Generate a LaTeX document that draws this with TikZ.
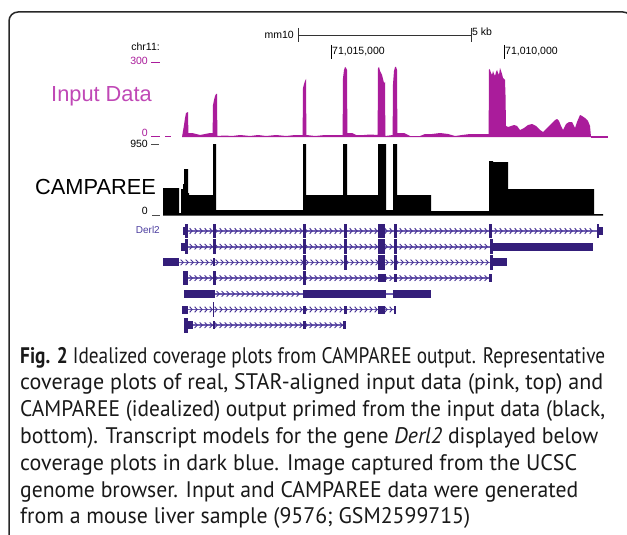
\documentclass[tikz,border=0pt]{standalone}
\usepackage{fontspec}
\setmainfont{Liberation Sans}
\newfontfamily\capfont{PT Sans}
\usepackage{graphicx}
\definecolor{inmag}{RGB}{170,28,155}
\definecolor{inlab}{RGB}{192,72,182}
\definecolor{txblue}{RGB}{52,30,122}
\definecolor{txline}{RGB}{108,92,176}
\definecolor{txchev}{RGB}{72,52,150}
\definecolor{derlc}{RGB}{76,62,160}
\definecolor{framec}{RGB}{40,40,40}
\definecolor{capc}{RGB}{25,25,25}
\newcommand\cdsbox[3]{\fill[txblue] (#1,#3-7.3) rectangle (#2,#3+7.3);}
\newcommand\utrbox[3]{\fill[txblue] (#1,#3-4) rectangle (#2,#3+4);}
\newcommand\intronln[3]{%
  \draw[txline,line width=1.6pt] (#2,#1) -- (#3,#1);
  \pgfmathsetmacro\xa{#2+3}\pgfmathsetmacro\xb{#2+8}\pgfmathsetmacro\xe{#3-2}
  \foreach \xx in {\xa,\xb,...,\xe}
    \draw[txchev,line width=0.9pt] (\xx-1.4,#1-2.8) -- (\xx+1.3,#1) -- (\xx-1.4,#1+2.8);}
\newcommand\capline[4]{\node[anchor=base west,inner sep=0,text=capc] (#1) at (20,#2) {\capfont\fontsize{22.5}{24}\selectfont\resizebox{#3pt}{\height}{#4}};}
\begin{document}
\begin{tikzpicture}[x=1pt,y=-1pt,
  lab/.style={inner sep=0,font=\fontsize{10.5}{12}\selectfont},
  big/.style={inner sep=0,font=\fontsize{21.8}{24}\selectfont}]
\useasboundingbox (0,0) rectangle (627,535);
\clip (0,0) rectangle (627,535);
\fill[white] (0,0) rectangle (627,535);
\draw[framec,line width=1.5pt,rounded corners=9pt] (9,560) -- (9,12) -- (632,12) -- (632,560);

% ruler
\node[lab,anchor=east] (mm) at (294,35) {mm10};
\draw[black!80,line width=0.8pt] (298,28) -- (298,42) (298,35) -- (471,35) (471,28) -- (471,42);
\node[lab,anchor=west] (kb) at (472,32) {5 kb};
\node[lab,anchor=east] (chr) at (160,47) {chr11:};
\draw[black,line width=0.8pt] (331,45) -- (331,59) (504,45) -- (504,59);
\node[lab,anchor=west] (p1) at (332,52) {71,015,000};
\node[lab,anchor=west] (p2) at (505,52) {71,010,000};

% axis labels
\node[lab,anchor=east,text=inmag] (t300) at (148,61) {300};
\draw[inmag,line width=0.9pt] (151,62) -- (160,62);
\node[lab,anchor=east,text=inmag] (t0a) at (148,133) {0};
\draw[inmag,line width=0.9pt] (151,136.5) -- (160,136.5) (165,136.5) -- (171,136.5);
\node[lab,anchor=east] (t950) at (148,144) {950};
\draw[black!70,line width=0.9pt] (151,144) -- (159,144);
\node[lab,anchor=east] (t0b) at (148,211) {0};
\draw[black!70,line width=0.9pt] (152,215) -- (160,215);
\node[lab,anchor=east,text=derlc,font=\fontsize{10}{12}\selectfont] (derl) at (160,230) {Derl2};
\node[big,anchor=west,text=inlab] (inlab) at (51,96) {Input Data};
\node[big,anchor=west] (camp) at (35,187) {CAMPAREE};

% input coverage
\fill[inmag] (182,137) -- (183,131) -- (184,125) -- (185,118) -- (186,113) -- (188,112) -- (188.4,133) -- (192,133) -- (196,134) -- (200,135) -- (205,134) -- (210,133) -- (212.6,133)
 -- (213,105) -- (214,100) -- (215,96) -- (216,94) -- (217,94) -- (217.4,136) -- (225,135.5) -- (232,136) -- (240,135) -- (250,136) -- (258,135) -- (266,136) -- (276,135) -- (286,136) -- (295,135) -- (302.6,135)
 -- (303,88) -- (304,84) -- (305,81) -- (306,79) -- (306.4,135) -- (315,136) -- (325,135) -- (335,135) -- (342.6,135)
 -- (343,78) -- (344,70) -- (345,67) -- (346,68) -- (347,70) -- (347.4,133) -- (352,133) -- (356,135) -- (364,135) -- (370,134.5) -- (377.6,135)
 -- (378,68) -- (379,67) -- (380,71) -- (381,73) -- (382,75) -- (383,79) -- (384,83) -- (385,82) -- (385.4,136) -- (392.6,135)
 -- (393,84) -- (394,71) -- (395,67) -- (396,67) -- (397,70) -- (397.4,133) -- (404,133) -- (410,136) -- (420,136) -- (425,134) -- (432,134) -- (440,133) -- (448,134) -- (455,136) -- (462,135) -- (470,134) -- (480,134) -- (488.6,134)
 -- (489,69) -- (490,70) -- (491,73) -- (492,75) -- (493,71) -- (494,74) -- (495,76) -- (496,72) -- (497,70) -- (498,73) -- (499,75) -- (500,68) -- (501,71) -- (502,74) -- (503,78) -- (504,79) -- (505,80) -- (505.5,95) -- (506,126)
 -- (508,127) -- (511,126) -- (514,125) -- (517,126) -- (520,130) -- (524,128) -- (528,125) -- (532,124) -- (536,126) -- (540,130) -- (543,132) -- (546,129) -- (549,126) -- (552,123) -- (555,120) -- (557,119) -- (559,121) -- (561,126) -- (563,130) -- (566,124) -- (569,122) -- (572,122) -- (575,128) -- (577,122) -- (580,115) -- (582,116) -- (585,118) -- (588,121) -- (590,126) -- (591,137) -- cycle;
\fill[inmag] (591,136) rectangle (608,137.5);

% CAMPAREE coverage
\fill[black] (163,215) -- (163,188) -- (179,188) -- (179,213) -- (181,213) -- (181,189) -- (183,189) -- (183,184) -- (184,184) -- (184,169) -- (188,169) -- (188,193) -- (189,193) -- (189,195) -- (213,195) -- (213,144) -- (216,144) -- (216,210) -- (303,210) -- (303,144) -- (306,144) -- (306,195) -- (343,195) -- (343,144) -- (347,144) -- (347,195) -- (378,195) -- (378,144) -- (386,144) -- (386,210) -- (393,210) -- (393,144) -- (397,144) -- (397,195) -- (431,195) -- (431,211) -- (489,211) -- (489,161) -- (493,161) -- (493,162) -- (508,162) -- (508,189) -- (594,189) -- (594,214) -- (603,214) -- (603,215.5) -- (163,215.5) -- cycle;

% transcripts
\def\ra{231}\def\rb{246.7}\def\rc{262.4}\def\rd{278.1}\def\re{293.8}\def\rf{309.5}\def\rg{325.2}
\intronln{\ra}{183}{597}
\intronln{\rb}{183}{490}
\intronln{\rc}{179}{490}
\intronln{\rd}{183}{492}
\intronln{\re}{215}{303}
\draw[txline,line width=1.6pt] (386,\re) -- (393,\re);
\intronln{\rf}{183}{395}
\intronln{\rg}{193}{345}
% row 1
\utrbox{183}{185}{\ra}\cdsbox{185}{188}{\ra}\cdsbox{213}{216}{\ra}\cdsbox{303}{306}{\ra}\cdsbox{344}{347}{\ra}\cdsbox{378}{385}{\ra}\cdsbox{394}{397}{\ra}\cdsbox{489}{492}{\ra}\cdsbox{597}{598.5}{\ra}\utrbox{598.5}{603}{\ra}
% row 2
\utrbox{181}{185}{\rb}\cdsbox{185}{188}{\rb}\cdsbox{213}{216}{\rb}\cdsbox{303}{306}{\rb}\cdsbox{344}{347}{\rb}\cdsbox{378}{385}{\rb}\cdsbox{394}{397}{\rb}\cdsbox{490}{493}{\rb}\utrbox{493}{593}{\rb}
% row 3
\utrbox{163}{179}{\rc}\utrbox{213}{215}{\rc}\cdsbox{303}{305.5}{\rc}\cdsbox{344}{347}{\rc}\cdsbox{378}{385}{\rc}\cdsbox{394}{397}{\rc}\cdsbox{490}{493}{\rc}\utrbox{493}{507}{\rc}
% row 4
\cdsbox{183}{188}{\rd}\cdsbox{213}{215.5}{\rd}\cdsbox{303}{306}{\rd}\utrbox{378}{386}{\rd}\utrbox{394}{397}{\rd}\utrbox{489}{492}{\rd}
% row 5
\utrbox{184}{215}{\re}\utrbox{303}{386}{\re}\utrbox{393}{431}{\re}
% row 6
\utrbox{182}{188}{\rf}\cdsbox{212.7}{214}{\rf}\utrbox{303}{306}{\rf}\utrbox{344}{347}{\rf}\utrbox{378}{385}{\rf}\utrbox{394}{396}{\rf}
% row 7
\cdsbox{184.3}{188}{\rg}\utrbox{188}{193}{\rg}\utrbox{213}{215}{\rg}\utrbox{303}{306}{\rg}\utrbox{343}{346}{\rg}

% caption
\capline{c1}{363}{585}{\textbf{Fig. 2} Idealized coverage plots from CAMPAREE output. Representative}
\capline{c2}{389.8}{583}{coverage plots of real, STAR-aligned input data (pink, top) and}
\capline{c3}{416.6}{585}{CAMPAREE (idealized) output primed from the input data (black,}
\capline{c4}{443.4}{578}{bottom). Transcript models for the gene \textit{Derl2} displayed below}
\capline{c5}{470.2}{557}{coverage plots in dark blue. Image captured from the UCSC}
\capline{c6}{497}{558}{genome browser. Input and CAMPAREE data were generated}
\capline{c7}{523.8}{450}{from a mouse liver sample (9576; GSM2599715)}
\end{tikzpicture}
\end{document}
